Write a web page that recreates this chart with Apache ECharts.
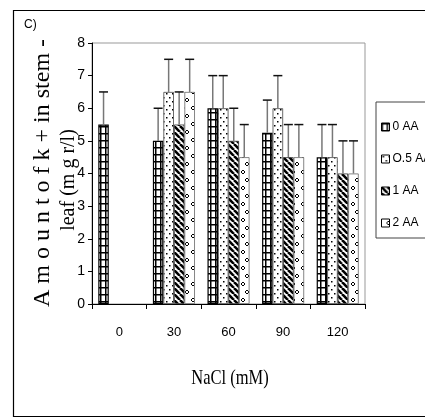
<!DOCTYPE html>
<html><head><meta charset="utf-8">
<script src="https://cdn.jsdelivr.net/npm/echarts@6/dist/echarts.min.js"></script>
<style>html,body{margin:0;padding:0;background:#fff}#c{width:425px;height:418px}</style>
</head><body><div id="c"></div>
<script>
const categories = ['0', '30', '60', '90', '120'];
const seriesNames = ['0 AA', 'O.5 AA', '1 AA', '2 AA'];
const aa0 = [5.5, 5, 6, 5.25, 4.5];
const aa05 = [0, 6.5, 6, 6, 4.5];
const aa1 = [0, 5.5, 5, 4.5, 4];
const aa2 = [0, 6.5, 4.5, 4.5, 4];
const err0 = [1, 1, 1, 1, 1];
const err05 = [0, 1, 1, 1, 1];
const err1 = [0, 1, 1, 1, 1];
const err2 = [0, 1, 1, 1, 1];
const yTicks = [0, 1, 2, 3, 4, 5, 6, 7, 8];

function mk(w, h, draw) {
  const c = document.createElement('canvas'); c.width = w; c.height = h;
  const g = c.getContext('2d'); g.fillStyle = '#fff'; g.fillRect(0, 0, w, h);
  g.fillStyle = '#000'; g.strokeStyle = '#000'; draw(g); return c;
}
const pat0 = mk(5, 7, g => { g.fillRect(0, 0, 1.5, 7); g.fillRect(0, 0, 5, 1.5); });
const pat1 = mk(6, 8, g => { g.fillRect(1, 1, 1.5, 1.5); g.fillRect(4, 5, 1.5, 1.5); });
const pat2 = mk(6, 6, g => { g.lineWidth = 2.6; for (const o of [-6, 0, 6]) { g.beginPath(); g.moveTo(o, 0); g.lineTo(o + 6, 6); g.stroke(); } });
const pat3 = mk(10, 16, g => { g.lineWidth = 1;
  g.beginPath(); g.moveTo(7, 2); g.lineTo(9, 4); g.lineTo(7, 6); g.lineTo(5, 4); g.closePath(); g.stroke();
  g.beginPath(); g.moveTo(3, 10); g.lineTo(5, 12); g.lineTo(3, 14); g.lineTo(1, 12); g.closePath(); g.stroke(); });
const pats = [pat0, pat1, pat2, pat3];
const vals = [aa0, aa05, aa1, aa2];
const errs = [err0, err05, err1, err2];
const borders = ['#000', '#444', '#333', '#666'];
const borderW = [1.2, 0.8, 0.8, 0.8];

const chart = echarts.init(document.getElementById('c'), null, {renderer: 'canvas'});
const GAP = 0.23;
const series = [];
vals.forEach((v, i) => {
  series.push({
    name: seriesNames[i], type: 'bar', data: v.map(y => (y > 0 ? y : '-')), barGap: '0%', barCategoryGap: (GAP * 100) + '%',
    itemStyle: {color: {image: pats[i], repeat: 'repeat'}, borderColor: borders[i], borderWidth: borderW[i]},
    z: 2
  });
});
vals.forEach((v, i) => {
  series.push({
    type: 'custom', z: 3, silent: true,
    data: v.map((y, k) => [k, y, y + errs[i][k]]),
    renderItem: function (params, api) {
      const k = api.value(0), y = api.value(1), top = api.value(2);
      if (!(y > 0)) return null;
      const band = api.size([1, 0])[0];
      const bw = band * (1 - GAP) / 4;
      const p0 = api.coord([k, y]);
      const p1 = api.coord([k, top]);
      const cx = p0[0] + (i - 1.5) * bw;
      return {type: 'group', children: [
        {type: 'line', shape: {x1: cx, y1: p0[1], x2: cx, y2: p1[1]}, style: {stroke: '#777', lineWidth: 1.5}},
        {type: 'line', shape: {x1: cx - 4.5, y1: p1[1], x2: cx + 4.5, y2: p1[1]}, style: {stroke: '#111', lineWidth: 1.5}}
      ]};
    }
  });
});

chart.setOption({
  animation: false,
  grid: {left: 92, top: 43, right: 60, bottom: 114, show: true, borderColor: '#999', borderWidth: 1},
  legend: {
    data: seriesNames, orient: 'vertical', left: 376, top: 102, icon: 'rect',
    itemWidth: 8, itemHeight: 8, itemGap: 20, padding: [19, 12, 9, 5],
    borderColor: '#444', borderWidth: 1, backgroundColor: '#fff',
    textStyle: {fontFamily: 'Liberation Sans Narrow, Liberation Sans, sans-serif', fontSize: 12, color: '#000', padding: [0, 0, 0, -2]},
    itemStyle: {borderColor: '#000', borderWidth: 1}
  },
  xAxis: {
    type: 'category', data: categories,
    axisLine: {lineStyle: {color: '#000', width: 1}},
    axisTick: {show: true, length: 5, lineStyle: {color: '#000'}},
    axisLabel: {margin: 22, fontFamily: 'Liberation Sans Narrow, Liberation Sans, sans-serif', fontSize: 13, color: '#000'}
  },
  yAxis: {
    type: 'value', min: yTicks[0], max: yTicks[yTicks.length - 1], interval: 1,
    splitLine: {show: false},
    axisLine: {show: true, lineStyle: {color: '#000', width: 1}},
    axisTick: {show: true, length: 4, lineStyle: {color: '#000'}},
    axisLabel: {margin: 7, fontFamily: 'Liberation Sans Narrow, Liberation Sans, sans-serif', fontSize: 14, color: '#000'}
  },
  graphic: [
    {type: 'rect', left: 11, top: 8, shape: {width: 440, height: 406}, style: {fill: 'none', stroke: '#000', lineWidth: 1.2}, z: -10},
    {type: 'text', left: 24, top: 19, style: {text: 'C)', font: '12px "Liberation Sans Narrow", "Liberation Sans", sans-serif', fill: '#000'}},
    {type: 'text', x: 43, y: 173, rotation: Math.PI / 2, style: {text: 'A m o u n t o f k + in stem -', font: '24px "Liberation Serif", serif', fill: '#000', align: 'center', verticalAlign: 'middle'}},
    {type: 'text', x: 69, y: 180, rotation: Math.PI / 2, style: {text: 'leaf (m g r/l)', font: '20px "Liberation Serif", serif', fill: '#000', align: 'center', verticalAlign: 'middle'}},
    {type: 'text', x: 230, y: 378, scaleX: 0.75, style: {text: 'NaCl (mM)', font: '22px "Liberation Serif", serif', fill: '#000', align: 'center', verticalAlign: 'middle'}}
  ],
  series: series
});
</script></body></html>
